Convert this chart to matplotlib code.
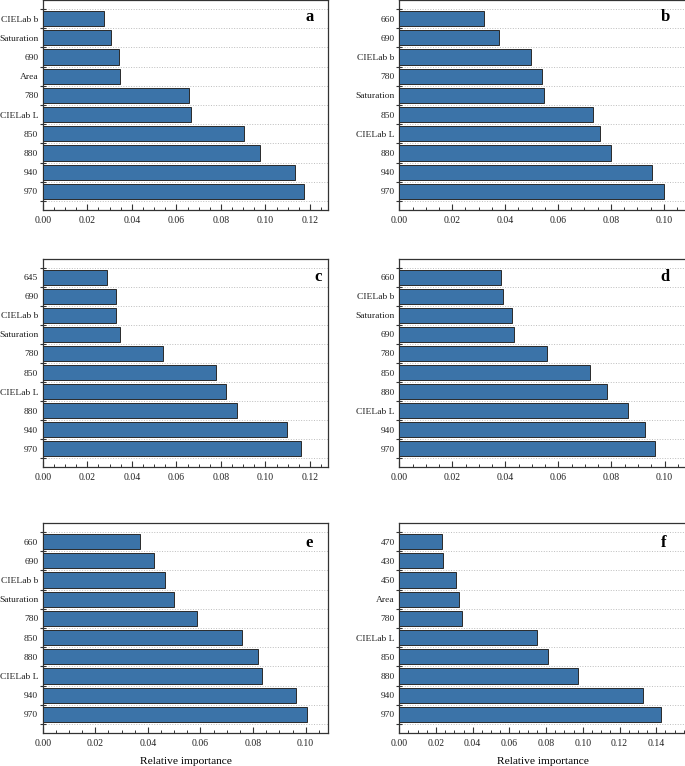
import matplotlib
matplotlib.use("Agg")
import matplotlib.pyplot as plt
from matplotlib.ticker import MultipleLocator, AutoMinorLocator, FixedLocator
import numpy as np

plt.rcParams['font.family'] = ['Liberation Serif', 'DejaVu Serif']

# ---- data (top bar first) ----
labels_a = ["CIELab b", "Saturation", "690", "Area", "780", "CIELab L", "850", "880", "940", "970"]
values_a = [0.0277, 0.0305, 0.0344, 0.0347, 0.0658, 0.0667, 0.0902, 0.0977, 0.1133, 0.1173]

labels_b = ["660", "690", "CIELab b", "780", "Saturation", "850", "CIELab L", "880", "940", "970"]
values_b = [0.0322, 0.0376, 0.0496, 0.0541, 0.0547, 0.0732, 0.0757, 0.0800, 0.0957, 0.1001]

labels_c = ["645", "690", "CIELab b", "Saturation", "780", "850", "CIELab L", "880", "940", "970"]
values_c = [0.0287, 0.0331, 0.0331, 0.0347, 0.0542, 0.0780, 0.0824, 0.0874, 0.1095, 0.1161]

labels_d = ["660", "CIELab b", "Saturation", "690", "780", "850", "880", "CIELab L", "940", "970"]
values_d = [0.0383, 0.0391, 0.0426, 0.0432, 0.0558, 0.0718, 0.0782, 0.0861, 0.0926, 0.0965]

labels_e = ["660", "690", "CIELab b", "Saturation", "780", "850", "880", "CIELab L", "940", "970"]
values_e = [0.0371, 0.0425, 0.0464, 0.0501, 0.0586, 0.0757, 0.0819, 0.0833, 0.0963, 0.1006]

labels_f = ["470", "430", "450", "Area", "780", "CIELab L", "850", "880", "940", "970"]
values_f = [0.0235, 0.0239, 0.0308, 0.0327, 0.0343, 0.0752, 0.0810, 0.0973, 0.1329, 0.1427]

panel_letters = ["a", "b", "c", "d", "e", "f"]
x_max = [0.1282, 0.1085, 0.1282, 0.1082, 0.1086, 0.1564]
xlabel_text = "Relative importance"

W, H = 685, 766
fig = plt.figure(figsize=(W / 100, H / 100), dpi=100)

# axes boxes in pixels: (left, top, width, height)
col_x = [(42.7, 285.6), (399.3, 287.0)]
row_y = [(0.0, 210.0), (259.0, 208.0), (523.0, 210.0)]
letter_pos = [(0.936, 0.92), (0.927, 0.92), (0.964, 0.913), (0.927, 0.913), (0.933, 0.905), (0.92, 0.905)]

all_labels = [labels_a, labels_b, labels_c, labels_d, labels_e, labels_f]
all_values = [values_a, values_b, values_c, values_d, values_e, values_f]

bar_color = "#3B73A8"
spine_color = "#333333"

for i in range(6):
    r, c = divmod(i, 2)
    lx, w = col_x[c]
    ty, h = row_y[r]
    ax = fig.add_axes([lx / W, 1 - (ty + h) / H, w / W, h / H])
    labels = all_labels[i]
    vals = all_values[i]
    pos = np.arange(len(labels))
    ax.barh(pos, vals, height=0.8, color=bar_color, edgecolor="#2a2a2a", linewidth=0.7, zorder=3)
    ax.set_ylim(len(labels) - 1 + 0.97, -0.97)
    ax.set_xlim(0, x_max[i])
    ax.set_yticks(pos)
    ax.set_yticklabels(labels)
    ax.yaxis.set_minor_locator(FixedLocator(np.arange(-0.5, len(labels), 1.0)))
    ax.tick_params(axis="y", which="major", length=0, labelsize=6.8, pad=3.2, colors="#222222")
    ax.tick_params(axis="y", which="minor", direction="inout", length=4, width=0.8, color=spine_color)
    ax.grid(axis="y", which="minor", linestyle=":", linewidth=0.7, color="#bdbdbd", zorder=0)
    ax.xaxis.set_major_locator(MultipleLocator(0.02))
    ax.xaxis.set_minor_locator(AutoMinorLocator(4))
    ax.xaxis.set_major_formatter(matplotlib.ticker.FormatStrFormatter("%.2f"))
    ax.tick_params(axis="x", which="major", direction="in", length=4, width=0.8, labelsize=7, pad=4.5,
                   color=spine_color, labelcolor="#222222")
    ax.tick_params(axis="x", which="minor", direction="in", length=2, width=0.7, color=spine_color)
    for s in ax.spines.values():
        s.set_color(spine_color)
        s.set_linewidth(0.9)
    ax.text(letter_pos[i][0], letter_pos[i][1], panel_letters[i], transform=ax.transAxes,
            fontsize=12, fontweight="bold", ha="center", va="center")
    if r == 2:
        ax.set_xlabel(xlabel_text, fontsize=8.2, labelpad=6)

fig.savefig("out.png", dpi=100)
